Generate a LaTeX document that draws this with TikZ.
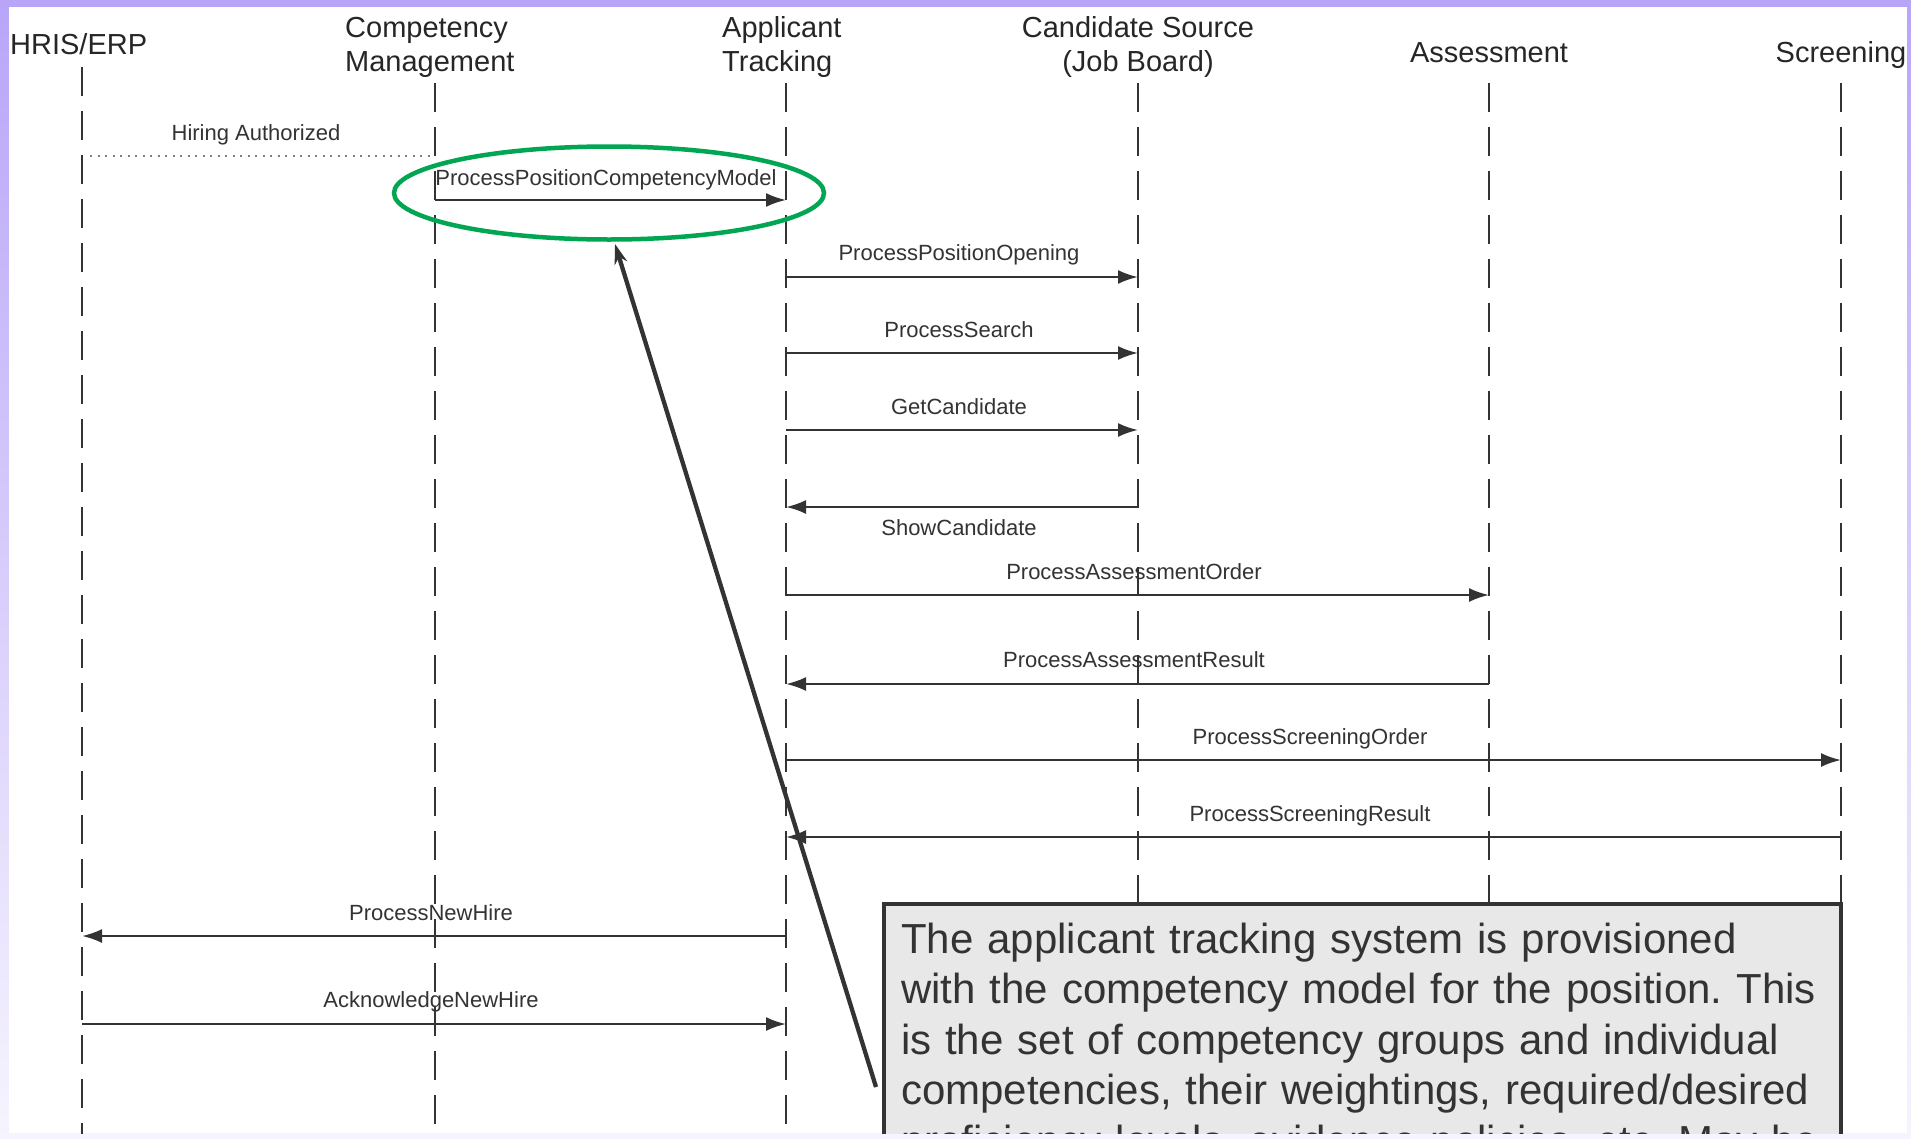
\documentclass[tikz,border=0pt]{standalone}
\usepackage{fontspec}
\setmainfont{Liberation Sans}
\usetikzlibrary{arrows.meta,shapes.geometric}
\definecolor{frametop}{HTML}{B9A5F8}
\definecolor{framebot}{HTML}{F6F4FE}
\definecolor{ink}{HTML}{333333}
\definecolor{hdrink}{HTML}{262626}
\definecolor{ovalgreen}{HTML}{00A651}
\definecolor{notefill}{HTML}{E8E8E8}
\frenchspacing
\begin{document}
\begin{tikzpicture}[x=1pt,y=-1pt,
  lifeline/.style={draw=ink, line width=2pt, dash pattern=on 29pt off 15pt},
  msgarrow/.style={draw=ink, line width=2.3pt, -{Latex[length=20pt,width=14pt]}},
  dottedmsg/.style={draw=black!50, line width=1.8pt, dash pattern=on 2pt off 5.5pt},
  hdr/.style={inner sep=0pt, text=hdrink, font=\fontsize{29pt}{34pt}\selectfont},
  lbl/.style={inner sep=0pt, text=ink, font=\fontsize{22pt}{26pt}\selectfont},
  notebox/.style={draw=ink, fill=notefill, line width=4pt, anchor=north west,
    text width=923pt, inner xsep=17pt, inner ysep=19pt, align=left, text=ink,
    font=\fontsize{42pt}{50.5pt}\selectfont},
]
\useasboundingbox (0,0) rectangle (1911,1138);
\shade[top color=frametop, bottom color=framebot] (0,0) rectangle (1911,1138);
\fill[white] (9,7) rectangle (1907,1133);
\begin{scope}
\clip (9,7) rectangle (1907,1133);

% lifelines
\coordinate (hrisT) at (82,67);   \coordinate (hrisB) at (82,1150);
\coordinate (compT) at (435,83);  \coordinate (compB) at (435,1150);
\coordinate (appT)  at (786,83);  \coordinate (appB)  at (786,1150);
\coordinate (candT) at (1138,83); \coordinate (candB) at (1138,1150);
\coordinate (asmtT) at (1489,83); \coordinate (asmtB) at (1489,1150);
\coordinate (scrT)  at (1841,83); \coordinate (scrB)  at (1841,1150);
\foreach \n in {hris,comp,app,cand,asmt,scr} \draw[lifeline] (\n T) -- (\n B);

% headers
\node[hdr, anchor=base west] (hHRIS) at (10,54) {HRIS/ERP};
\node[hdr, anchor=base west] (hComp1) at (345,37) {Competency};
\node[hdr, anchor=base west] (hComp2) at (345,71) {Management};
\node[hdr, anchor=base west] (hApp1) at (722,37) {Applicant};
\node[hdr, anchor=base west] (hApp2) at (722,71) {Tracking};
\node[hdr, anchor=base] (hCand1) at (1138,37) {Candidate Source};
\node[hdr, anchor=base] (hCand2) at (1138,71) {(Job Board)};
\node[hdr, anchor=base] (hAsmt) at (1489,62) {Assessment};
\node[hdr, anchor=base] (hScr) at (1841,62) {Screening};

% message endpoints
\coordinate (m1a) at (90,156);    \coordinate (m1b) at (435,156);
\coordinate (m2a) at (435,200);   \coordinate (m2b) at (786,200);
\coordinate (m3a) at (786,277);   \coordinate (m3b) at (1138,277);
\coordinate (m4a) at (786,353);   \coordinate (m4b) at (1138,353);
\coordinate (m5a) at (786,430);   \coordinate (m5b) at (1138,430);
\coordinate (m6a) at (1138,507);  \coordinate (m6b) at (786,507);
\coordinate (m7a) at (786,595);   \coordinate (m7b) at (1489,595);
\coordinate (m8a) at (1489,684);  \coordinate (m8b) at (786,684);
\coordinate (m9a) at (786,760);   \coordinate (m9b) at (1841,760);
\coordinate (m10a) at (1841,837); \coordinate (m10b) at (786,837);
\coordinate (m11a) at (786,936);  \coordinate (m11b) at (82,936);
\coordinate (m12a) at (82,1024);  \coordinate (m12b) at (786,1024);

\draw[dottedmsg] (m1a) -- (m1b);
\foreach \k in {2,...,12} \draw[msgarrow] (m\k a) -- (m\k b);

% labels
\node[lbl, anchor=base] (l1) at (256,140) {Hiring Authorized};
\node[lbl, anchor=base] (l2) at (606,185) {ProcessPositionCompetencyModel};
\node[lbl, anchor=base] (l3) at (959,260) {ProcessPositionOpening};
\node[lbl, anchor=base] (l4) at (959,337) {ProcessSearch};
\node[lbl, anchor=base] (l5) at (959,414) {GetCandidate};
\node[lbl, anchor=base] (l6) at (959,535) {ShowCandidate};
\node[lbl, anchor=base] (l7) at (1134,579) {ProcessAssessmentOrder};
\node[lbl, anchor=base] (l8) at (1134,667) {ProcessAssessmentResult};
\node[lbl, anchor=base] (l9) at (1310,744) {ProcessScreeningOrder};
\node[lbl, anchor=base] (l10) at (1310,821) {ProcessScreeningResult};
\node[lbl, anchor=base] (l11) at (431,920) {ProcessNewHire};
\node[lbl, anchor=base] (l12) at (431,1007) {AcknowledgeNewHire};

% highlight oval and callout
\node[draw=ovalgreen, line width=4.5pt, ellipse, minimum width=430pt, minimum height=93pt, inner sep=0pt] (oval) at (609,193) {};
\coordinate (ptrS) at (876,1087);
\coordinate (ptrE) at (615,244);
\draw[draw=ink, line width=4.3pt, -{Stealth[length=20pt,width=13pt]}] (ptrS) -- (ptrE);

\node[notebox] (note) at (882,902) {\mbox{The applicant tracking system is provisioned}\\
\mbox{with the competency model for the position. This}\\
\mbox{is the set of competency groups and individual}\\
\mbox{competencies, their weightings, required/desired}\\
\mbox{proficiency levels, evidence policies, etc. May be}};
\end{scope}
\end{tikzpicture}
\end{document}
